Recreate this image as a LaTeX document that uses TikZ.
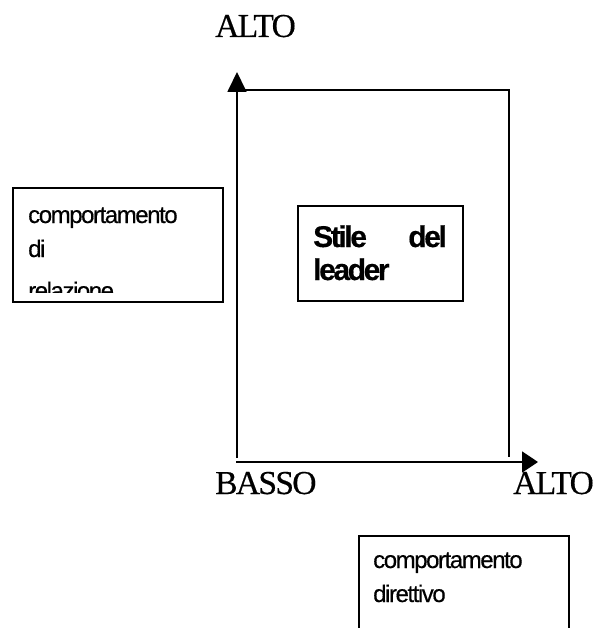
\documentclass[tikz,border=0pt]{standalone}
\usepackage{fontspec}
\setmainfont{Liberation Serif}
\newfontfamily\serifaxis{Liberation Serif}[LetterSpace=-5,FakeBold=0.4]
\newfontfamily\sansbox{Liberation Sans}[LetterSpace=-6,FakeBold=0.4]
\newfontfamily\sansboxbold{Liberation Sans Bold}[LetterSpace=-8,FakeBold=0.4]
\usetikzlibrary{arrows.meta}
\tikzset{
  axis/.style={line width=1.8pt},
  frameline/.style={line width=1.8pt},
  boxframe/.style={draw,line width=1.6pt,inner sep=0pt,anchor=north west},
  axislabel/.style={font=\serifaxis\fontsize{33.5}{33.5}\selectfont,inner sep=0pt,anchor=base west},
  boxtext/.style={font=\sansbox\fontsize{24}{24}\selectfont,inner sep=0pt,anchor=base west},
  boldtext/.style={font=\sansboxbold\fontsize{30}{30}\selectfont,inner sep=0pt},
}
\begin{document}
\begin{tikzpicture}[x=1pt,y=-1pt]
\useasboundingbox[fill=white] (0,0) rectangle (597,628);
% axes
\coordinate (vbot) at (237,458);
\coordinate (vtip) at (237,72);
\coordinate (hleft) at (236,462);
\coordinate (htip) at (538,462);
\coordinate (tl) at (237,90);
\coordinate (tr) at (509,90);
\coordinate (br) at (509,457);
\draw[axis,-{Triangle[length=20pt,width=19pt]}] (vbot) -- (vtip);
\draw[axis,-{Triangle[length=16pt,width=21pt]}] (hleft) -- (htip);
\draw[frameline] (tl) -- (tr) -- (br);
% axis labels
\node[axislabel] (altotop) at (215,37) {ALTO};
\node[axislabel] (basso) at (215,494) {BASSO};
\node[axislabel] (altoright) at (513,494) {ALTO};
% left box
\node[boxframe,minimum width=210pt,minimum height=114pt] (relbox) at (12,187) {};
\begin{scope}
\clip (12,187) rectangle (222,292);
\node[boxtext] (rel1) at (28,223) {comportamento};
\node[boxtext] (rel2) at (28,257) {di};
\node[boxtext] (rel3) at (28,299) {relazione};
\end{scope}
% center box
\node[boxframe,minimum width=165pt,minimum height=95pt] (stilebox) at (297,205) {};
\node[boldtext,anchor=base west] (stile) at (313,247) {Stile};
\node[boldtext,anchor=base east] (del) at (447,247) {del};
\node[boldtext,anchor=base west] (leader) at (313,280) {leader};
% bottom right box
\node[boxframe,minimum width=210pt,minimum height=120pt] (dirbox) at (358,535) {};
\node[boxtext] (dir1) at (373,568) {comportamento};
\node[boxtext] (dir2) at (373,602) {direttivo};
\end{tikzpicture}
\end{document}
